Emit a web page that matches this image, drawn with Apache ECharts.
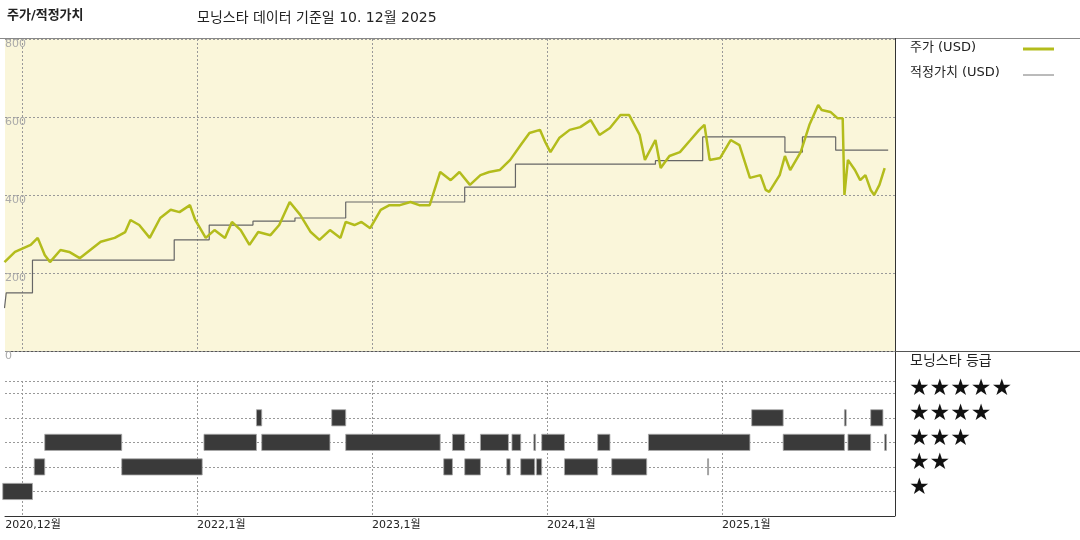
<!DOCTYPE html>
<html lang="ko">
<head>
<meta charset="UTF-8">
<title>주가/적정가치</title>
<script src="https://cdn.jsdelivr.net/npm/echarts@6/dist/echarts.min.js"></script>
<style>body{margin:0;background:#fff}</style>
</head>
<body>
<div id="chart" style="width:1080px;height:540px;"></div>
<script>
// 주가 (decimal year, USD)
const priceData = [
  [2020.90,228],[2020.96,254],[2021.05,272],[2021.09,290],[2021.13,246],[2021.16,228],[2021.22,259],[2021.27,254],
  [2021.33,238],[2021.39,259],[2021.45,280],[2021.53,290],[2021.59,305],[2021.62,336],[2021.67,323],[2021.73,290],
  [2021.79,341],[2021.85,362],[2021.90,356],[2021.96,374],[2021.99,336],[2022.05,290],[2022.10,310],[2022.16,290],
  [2022.20,331],[2022.25,310],[2022.30,272],[2022.35,305],[2022.42,297],[2022.47,323],[2022.53,382],[2022.59,349],
  [2022.65,305],[2022.70,285],[2022.76,310],[2022.82,290],[2022.85,331],[2022.90,323],[2022.94,331],[2022.99,315],
  [2023.05,362],[2023.10,374],[2023.16,374],[2023.22,382],[2023.27,374],[2023.33,374],[2023.39,459],[2023.45,438],
  [2023.50,459],[2023.56,426],[2023.62,451],[2023.67,459],[2023.73,464],[2023.79,490],[2023.85,528],[2023.90,559],
  [2023.96,567],[2023.99,536],[2024.02,510],[2024.07,546],[2024.13,567],[2024.19,574],[2024.25,592],[2024.30,554],
  [2024.36,572],[2024.42,605],[2024.47,605],[2024.53,554],[2024.56,490],[2024.62,541],[2024.65,469],[2024.70,500],
  [2024.76,510],[2024.82,541],[2024.87,567],[2024.90,580],[2024.93,490],[2024.99,495],[2025.05,541],[2025.10,528],
  [2025.16,444],[2025.22,451],[2025.25,413],[2025.27,408],[2025.33,451],[2025.36,500],[2025.39,464],[2025.45,510],
  [2025.50,580],[2025.55,631],[2025.57,618],[2025.62,613],[2025.66,597],[2025.69,597],[2025.70,400],[2025.72,490],
  [2025.76,464],[2025.79,438],[2025.82,451],[2025.85,413],[2025.87,400],[2025.90,426],[2025.93,469]
];
// 적정가치 (value holds from this date to the next)
const fairData = [
  [2020.90,110],[2020.91,149],[2021.06,233],[2021.87,285],[2022.07,323],[2022.32,333],[2022.56,341],[2022.85,382],
  [2023.53,420],[2023.82,479],[2024.62,488],[2024.89,549],[2025.36,510],[2025.46,549],[2025.65,515],[2025.95,515]
];
// 모닝스타 등급 periods: [start, end, stars]
const ratingData = [
  [2020.89,2021.06,1],
  [2021.07,2021.13,2],[2021.57,2022.03,2],[2023.41,2023.46,2],[2023.53,2023.62,2],[2023.77,2023.79,2],
  [2023.85,2023.93,2],[2023.94,2023.97,2],[2024.10,2024.29,2],[2024.37,2024.57,2],[2024.918,2024.922,2],
  [2021.13,2021.57,3],[2022.04,2022.34,3],[2022.37,2022.76,3],[2022.85,2023.39,3],[2023.46,2023.53,3],
  [2023.62,2023.78,3],[2023.80,2023.85,3],[2023.925,2023.935,3],[2023.97,2024.10,3],[2024.29,2024.36,3],
  [2024.58,2025.16,3],[2025.35,2025.70,3],[2025.72,2025.85,3],[2025.93,2025.94,3],
  [2022.34,2022.37,4],[2022.77,2022.85,4],[2025.17,2025.35,4],[2025.70,2025.71,4],[2025.85,2025.92,4]
];
const yearTicks = [2021, 2022, 2023, 2024, 2025];
const starRows = ['★★★★★', '★★★★', '★★★', '★★', '★'];

const chart = echarts.init(document.getElementById('chart'));
const xMin = 2020.903, xMax = 2025.989;
const font = 'DejaVu Sans, Noto Sans CJK KR';
const dotted = { show: true, lineStyle: { color: '#999', type: [2, 2], width: 1 } };

const option = {
  textStyle: { fontFamily: font },
  animation: false,
  grid: [
    { left: 5, top: 39, width: 890, height: 312, show: true, backgroundColor: '#faf6da', borderWidth: 0 },
    { left: 5, top: 381, width: 890, height: 135, show: false }
  ],
  xAxis: [
    { gridIndex: 0, type: 'value', min: xMin, max: xMax, axisLine: { show: false }, axisLabel: { show: false },
      axisTick: { show: false, customValues: yearTicks }, splitLine: dotted },
    { gridIndex: 1, type: 'value', min: xMin, max: xMax,
      axisLine: { show: true, lineStyle: { color: '#333' } },
      axisTick: { show: false, customValues: yearTicks }, splitLine: dotted,
      axisLabel: { customValues: [2020.905].concat(yearTicks), align: 'left', margin: 4, color: '#222', fontSize: 11,
        hideOverlap: false, showMinLabel: true,
        formatter: v => v < 2021 ? '2020,12월' : Math.round(v) + ',1월' } }
  ],
  yAxis: [
    { gridIndex: 0, type: 'value', min: 0, max: 800, interval: 200, axisLine: { show: false }, axisTick: { show: false },
      splitLine: dotted,
      axisLabel: { inside: true, verticalAlign: 'top', color: '#aaa', fontSize: 11, margin: 0 } },
    { gridIndex: 1, type: 'value', min: 0, max: 5.5, interval: 1, axisLine: { show: false }, axisTick: { show: false },
      axisLabel: { show: false },
      splitLine: { show: true, lineStyle: { color: '#999', type: [2, 2], width: 1 }, showMinLine: false } }
  ],
  series: [
    { name: '적정가치 (USD)', type: 'line', xAxisIndex: 0, yAxisIndex: 0, data: fairData, step: 'end',
      showSymbol: false, lineStyle: { color: '#666', width: 1.2 } },
    { name: '주가 (USD)', type: 'line', xAxisIndex: 0, yAxisIndex: 0, data: priceData,
      showSymbol: false, lineStyle: { color: '#b3bc1c', width: 2.5 } },
    { type: 'custom', xAxisIndex: 1, yAxisIndex: 1, data: ratingData,
      renderItem: (params, api) => {
        const a = api.coord([api.value(0), api.value(2) + 0.33]);
        const b = api.coord([api.value(1), api.value(2) - 0.33]);
        return { type: 'rect', shape: { x: a[0], y: a[1], width: Math.max(b[0] - a[0], 1), height: b[1] - a[1] },
          style: { fill: '#3a3a3a', stroke: '#aaa', lineWidth: 0.8 } };
      } }
  ],
  graphic: [
    { type: 'text', left: 7, top: 9, style: { text: '주가/적정가치', font: 'bold 13px ' + font, fill: '#222' } },
    { type: 'text', left: 197, top: 11, style: { text: '모닝스타 데이터 기준일 10. 12월 2025', font: '14px ' + font, fill: '#222' } },
    { type: 'line', shape: { x1: 0, y1: 38.5, x2: 1080, y2: 38.5 }, style: { stroke: '#888', lineWidth: 1 } },
    { type: 'line', shape: { x1: 895.5, y1: 38, x2: 895.5, y2: 516 }, style: { stroke: '#333', lineWidth: 1 } },
    { type: 'line', shape: { x1: 5, y1: 351.5, x2: 1080, y2: 351.5 }, style: { stroke: '#555', lineWidth: 1 } },
    { type: 'text', left: 910, top: 41, style: { text: '주가 (USD)', font: '13px ' + font, fill: '#222' } },
    { type: 'line', shape: { x1: 1023, y1: 49, x2: 1054, y2: 49 }, style: { stroke: '#b3bc1c', lineWidth: 3 } },
    { type: 'text', left: 910, top: 66, style: { text: '적정가치 (USD)', font: '13px ' + font, fill: '#222' } },
    { type: 'line', shape: { x1: 1023, y1: 75, x2: 1054, y2: 75 }, style: { stroke: '#777', lineWidth: 1 } },
    { type: 'text', left: 910, top: 354, style: { text: '모닝스타 등급', font: '14px ' + font, fill: '#222' } }
  ].concat(starRows.map((s, i) => ({ type: 'text', left: 909, top: 378 + i * 24.6,
    style: { text: s, font: '23px ' + font, fill: '#111' } })))
};
chart.setOption(option);
</script>
</body>
</html>
